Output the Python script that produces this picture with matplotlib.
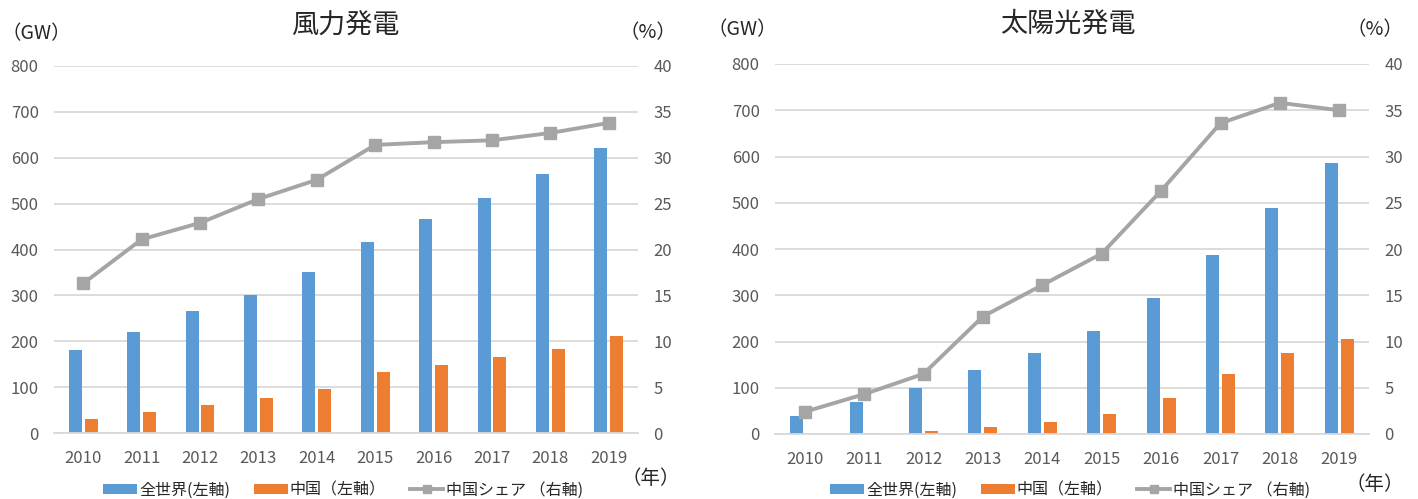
import matplotlib
matplotlib.use("Agg")
import matplotlib.pyplot as plt
import numpy as np
from matplotlib.patches import Patch
from matplotlib.lines import Line2D

plt.rcParams['font.family'] = ['Noto Sans CJK JP', 'DejaVu Sans']

years = ["2010", "2011", "2012", "2013", "2014", "2015", "2016", "2017", "2018", "2019"]

wind_world = [180, 220, 266, 300, 350, 416, 467, 513, 564, 622]
wind_china = [30, 46, 62, 76, 96, 132, 148, 165, 184, 211]
wind_share = [16.3, 21.1, 22.9, 25.5, 27.6, 31.4, 31.7, 31.9, 32.7, 33.8]

solar_world = [39, 69, 100, 139, 175, 222, 295, 388, 488, 587]
solar_china = [0.8, 3, 6, 16, 27, 43, 77, 130, 175, 205]
solar_share = [2.4, 4.3, 6.5, 12.7, 16.1, 19.5, 26.3, 33.6, 35.8, 35.0]

left_ticks = [0, 100, 200, 300, 400, 500, 600, 700, 800]
right_ticks = [0, 5, 10, 15, 20, 25, 30, 35, 40]

C_BLUE = "#5B9BD5"
C_ORANGE = "#ED7D31"
C_GRAY = "#A5A5A5"
C_GRID = "#D9D9D9"
C_TEXT = "#595959"
C_DARK = "#262626"

W, H = 1418, 499
fig = plt.figure(figsize=(W / 100, H / 100), dpi=100)


def px_axes(x0, x1, y0, y1):
    return fig.add_axes([x0 / W, (H - y1) / H, (x1 - x0) / W, (y1 - y0) / H])


def draw(ax, world, china, share):
    x = np.arange(len(years))
    bw = 0.22
    ax.bar(x - 0.135, world, width=bw, color=C_BLUE, zorder=2)
    ax.bar(x + 0.135, china, width=bw, color=C_ORANGE, zorder=2)
    ax.set_xlim(-0.5, len(years) - 0.5)
    ax.set_ylim(0, 800)
    ax.set_yticks(left_ticks)
    ax.set_xticks(x)
    ax.set_xticklabels(years)
    ax.yaxis.grid(True, color=C_GRID, linewidth=1.3, zorder=0)
    ax.set_axisbelow(True)
    for s in ["top", "right", "left"]:
        ax.spines[s].set_visible(False)
    ax.spines["bottom"].set_color(C_GRID)
    ax.spines["bottom"].set_linewidth(1.3)
    ax.tick_params(axis="both", length=0, labelsize=12, colors=C_TEXT)
    ax.tick_params(axis="y", pad=11)
    ax.tick_params(axis="x", pad=12)

    ax2 = ax.twinx()
    ax2.plot(x, share, color=C_GRAY, linewidth=2.8, marker="s", markersize=8.5, zorder=3)
    ax2.set_ylim(0, 40)
    ax2.set_yticks(right_ticks)
    for s in ["top", "right", "left", "bottom"]:
        ax2.spines[s].set_visible(False)
    ax2.tick_params(axis="y", length=0, labelsize=12, colors=C_TEXT, pad=11)
    return ax2


axL = px_axes(54, 638, 66, 433)
draw(axL, wind_world, wind_china, wind_share)
axR = px_axes(775, 1369, 64, 434)
draw(axR, solar_world, solar_china, solar_share)


def ftext(x, y, s, **kw):
    fig.text(x / W, (H - y) / H, s, **kw)


ftext(345, 26, "風力発電", fontsize=19.5, ha="center", va="center", color=C_DARK)
ftext(1068, 24, "太陽光発電", fontsize=19.5, ha="center", va="center", color=C_DARK)
ftext(36, 34, "（GW）", fontsize=14, ha="center", va="center", color=C_DARK)
ftext(742, 30, "（GW）", fontsize=14, ha="center", va="center", color=C_DARK)
ftext(648, 33, "（%）", fontsize=14, ha="center", va="center", color=C_DARK)
ftext(1375, 30, "（%）", fontsize=14, ha="center", va="center", color=C_DARK)
ftext(651, 479, "（年）", fontsize=14, ha="center", va="center", color=C_DARK)
ftext(1375, 485, "（年）", fontsize=14, ha="center", va="center", color=C_DARK)

handles = [
    Patch(facecolor=C_BLUE, edgecolor="none"),
    Patch(facecolor=C_ORANGE, edgecolor="none"),
    Line2D([0], [0], color=C_GRAY, linewidth=2.8, marker="s", markersize=6),
]
labels = ["全世界(左軸)", "中国（左軸）", "中国シェア （右軸)"]

for cx in (343, 1070):
    fig.legend(handles, labels, loc="center", bbox_to_anchor=(cx / W, (H - 490) / H),
               ncol=3, frameon=False, fontsize=11.5, handlelength=2.1, handleheight=0.6,
               handletextpad=0.15, columnspacing=1.5, labelcolor=C_DARK)

fig.savefig("out.png", dpi=100)
